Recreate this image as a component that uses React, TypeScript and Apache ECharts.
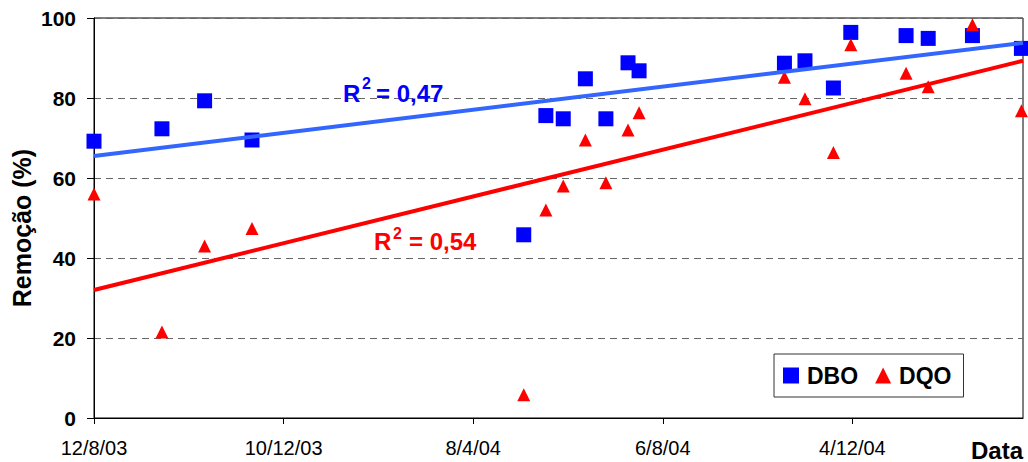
import React, { useEffect, useRef } from "react";
import * as echarts from "echarts";

// Sampling dates (ISO) and removal efficiencies (%)
const sampleDates = [
  "2003-08-12", "2003-09-24", "2003-10-21", "2003-11-20",
  "2004-05-10", "2004-05-24", "2004-06-04", "2004-06-18", "2004-07-01",
  "2004-07-15", "2004-07-22", "2004-10-22", "2004-11-04", "2004-11-22",
  "2004-12-03", "2005-01-07", "2005-01-21", "2005-02-18", "2005-03-21",
];
const dboValues = [
  69.2, 72.3, 79.3, 69.5, 45.8, 75.6, 74.8, 84.8, 74.8, 88.8,
  86.8, 88.7, 89.3, 82.5, 96.4, 95.6, 94.9, 95.6, 92.4,
];
const dqoValues = [
  56.0, 21.5, 43.0, 47.4, 5.8, 52.0, 58.0, 69.5, 58.8, 72.0,
  76.3, 85.2, 79.8, 66.4, 93.3, 86.2, 82.8, 98.3, 76.8,
];

// Linear trend lines: value at axis start and at axis end
const dboTrend = [65.5, 93.8];
const dqoTrend = [32.0, 89.3];

// Date axis
const axisStart = "2003-08-12";
const axisEnd = "2005-03-22";
const tickStepDays = 120;
const xTickLabels = ["12/8/03", "10/12/03", "8/4/04", "6/8/04", "4/12/04"];

const DAY_MS = 86400000;
const toDay = (iso: string) =>
  Math.round((Date.parse(iso) - Date.parse(axisStart)) / DAY_MS);

const FONT = '"Liberation Sans", Arial, sans-serif';

export default function App() {
  const ref = useRef<HTMLDivElement>(null);

  useEffect(() => {
    if (!ref.current) return;
    const chart = echarts.init(ref.current, undefined, { renderer: "svg" });
    const endDay = toDay(axisEnd);
    const dboData = sampleDates.map((d, i) => [toDay(d), dboValues[i]]);
    const dqoData = sampleDates.map((d, i) => [toDay(d), dqoValues[i]]);

    const txt = (
      text: string,
      x: number,
      y: number,
      size: number,
      color: string,
      align = "left",
      extra: any = {}
    ) => ({
      type: "text",
      x,
      y,
      ...extra,
      style: {
        text,
        fill: color,
        fontSize: size,
        fontWeight: "bold",
        fontFamily: FONT,
        align,
        verticalAlign: "middle",
      },
      z: 100,
    });

    chart.setOption({
      animation: false,
      backgroundColor: "#ffffff",
      grid: {
        left: 94,
        right: 5,
        top: 18,
        bottom: 44,
        show: true,
        borderColor: "#000",
        borderWidth: 1,
        backgroundColor: "transparent",
      },
      xAxis: {
        type: "value",
        min: 0,
        max: endDay,
        interval: tickStepDays,
        axisLine: { show: true, lineStyle: { color: "#000", width: 1 } },
        axisTick: { show: true, length: 6, lineStyle: { color: "#000" } },
        splitLine: { show: false },
        axisLabel: {
          margin: 20,
          color: "#000",
          fontSize: 20,
          fontFamily: FONT,
          showMaxLabel: false,
          formatter: (v: number) => {
            const i = v / tickStepDays;
            return Number.isInteger(i) && xTickLabels[i] ? xTickLabels[i] : "";
          },
        },
      },
      yAxis: {
        type: "value",
        min: 0,
        max: 100,
        interval: 20,
        axisLine: { show: true, lineStyle: { color: "#000", width: 1 } },
        axisTick: { show: true, length: 7, lineStyle: { color: "#000" } },
        splitLine: {
          show: true,
          lineStyle: { color: "#666", width: 1, type: [7, 5] },
        },
        axisLabel: {
          margin: 18,
          color: "#000",
          fontSize: 21,
          fontWeight: "bold",
          fontFamily: FONT,
          padding: [5, 0, 0, 0],
        },
      },
      legend: {
        data: ["DBO", "DQO"],
        left: 774,
        top: 354,
        orient: "horizontal",
        padding: [10, 12, 10, 9],
        itemWidth: 16,
        itemHeight: 16,
        itemGap: 17,
        borderColor: "#333",
        borderWidth: 1,
        borderRadius: 0,
        backgroundColor: "#fff",
        textStyle: {
          color: "#000",
          fontSize: 23,
          fontWeight: "bold",
          fontFamily: FONT,
          padding: [0, 0, 0, 3],
        },
      },
      series: [
        {
          name: "DBO",
          type: "scatter",
          symbol: "rect",
          symbolSize: 15,
          clip: false,
          itemStyle: { color: "#0000ff", opacity: 1 },
          data: dboData,
          z: 2,
        },
        {
          name: "DQO",
          type: "scatter",
          symbol: "triangle",
          symbolSize: 13,
          clip: false,
          itemStyle: { color: "#ff0000", opacity: 1 },
          data: dqoData,
          z: 3,
        },
        {
          name: "DBO trend",
          type: "line",
          showSymbol: false,
          symbol: "none",
          lineStyle: { color: "#3366ff", width: 4 },
          data: [[0, dboTrend[0]], [endDay, dboTrend[1]]],
          z: 4,
        },
        {
          name: "DQO trend",
          type: "line",
          showSymbol: false,
          symbol: "none",
          lineStyle: { color: "#ff0000", width: 4 },
          data: [[0, dqoTrend[0]], [endDay, dqoTrend[1]]],
          z: 4,
        },
      ],
      graphic: [
        txt("Remoção (%)", 22, 228, 25, "#000", "center", { rotation: Math.PI / 2 }),
        txt("Data", 1023, 450, 24, "#000", "right"),
        txt("R", 343, 93.5, 24, "#0000ff"),
        txt("2", 362, 83, 16, "#0000ff"),
        txt("= 0,47", 376, 93.5, 24, "#0000ff"),
        txt("R", 374, 241.5, 24, "#ff0000"),
        txt("2", 393, 233, 16, "#ff0000"),
        txt("= 0,54", 409, 241.5, 24, "#ff0000"),
      ],
    });

    return () => chart.dispose();
  }, []);

  return (
    <div
      ref={ref}
      style={{ position: "fixed", left: 0, top: 0, width: 1028, height: 462 }}
    />
  );
}
